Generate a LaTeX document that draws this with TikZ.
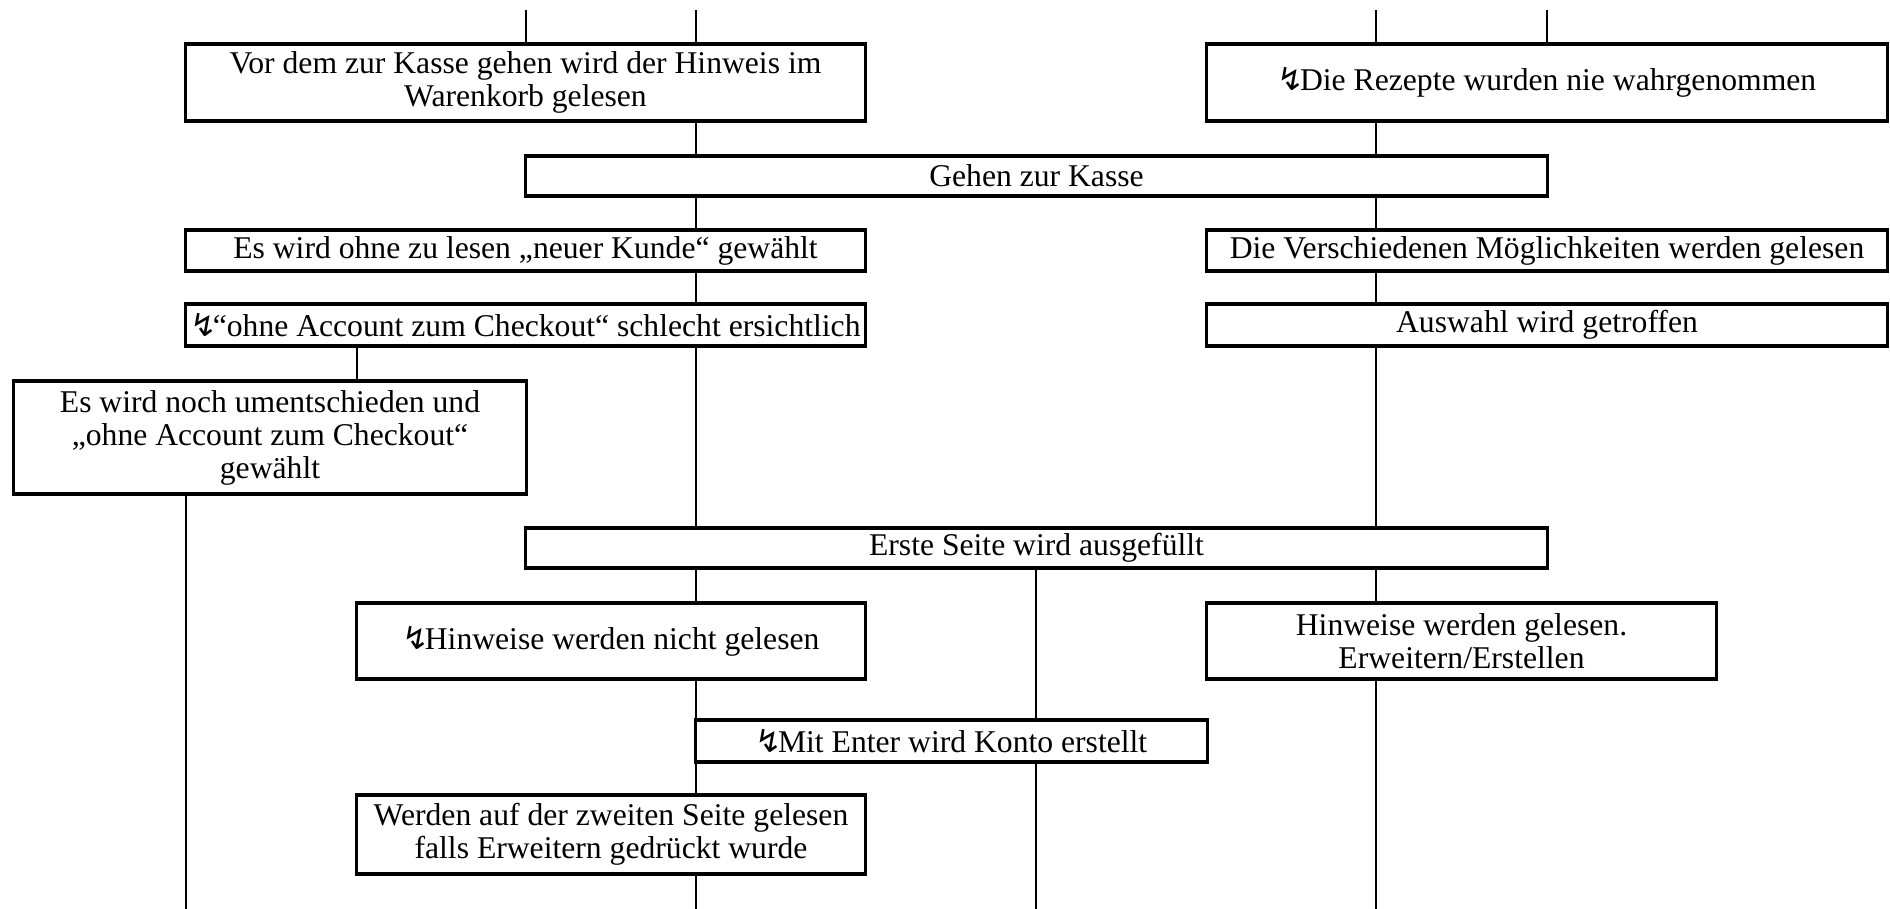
\documentclass[tikz,border=0pt]{standalone}
\usepackage{fontspec}
\setmainfont{Liberation Serif}
\newfontfamily\symfont{DejaVu Sans}
\newcommand{\blitz}{{\symfont\fontsize{9}{9}\selectfont ↯}\kern-1.2pt}
\tikzset{
  box/.style={draw, line width=0.9pt, align=center, inner sep=1pt, font=\fontsize{9}{9.4}\selectfont},
  link/.style={line width=0.6pt}
}
\begin{document}
\begin{tikzpicture}[x=0.01cm, y=-0.01cm]
        \useasboundingbox (0,0) rectangle (1890,909);
        % columns and free ends
        \coordinate (cA) at (186,0);
        \coordinate (cB) at (357,0);
        \coordinate (cC) at (526,0);
        \coordinate (cD) at (696,0);
        \coordinate (cE) at (1036,0);
        \coordinate (cF) at (1376,0);
        \coordinate (cG) at (1547,0);
        \coordinate (top) at (0,10);
        \coordinate (bot) at (0,909);

        % left path
        \node[box, minimum width=6.79cm, minimum height=0.77cm] (vorkasse) at (525.5,82.5) {Vor dem zur Kasse gehen wird der Hinweis im\\Warenkorb gelesen};
        \node[box, minimum width=6.79cm, minimum height=0.41cm] (neukunde) at (525.5,250.5) {Es wird ohne zu lesen „neuer Kunde“ gewählt};
        \node[box, minimum width=6.79cm, minimum height=0.42cm] (checkout) at (525.5,325) {\blitz“ohne Account zum Checkout“ schlecht ersichtlich};
        \node[box, minimum width=5.12cm, minimum height=1.13cm] (umentsch) at (270,437.5) {Es wird noch umentschieden und\\„ohne Account zum Checkout“\\gewählt};

        % right path
        \node[box, minimum width=6.80cm, minimum height=0.77cm] (rezepte) at (1547,82.5) {\blitz Die Rezepte wurden nie wahrgenommen};
        \node[box, minimum width=6.80cm, minimum height=0.41cm] (moeglich) at (1547,250.5) {Die Verschiedenen Möglichkeiten werden gelesen};
        \node[box, minimum width=6.80cm, minimum height=0.42cm] (auswahl) at (1547,325) {Auswahl wird getroffen};

        % common steps
        \node[box, minimum width=10.21cm, minimum height=0.40cm] (kasse) at (1036.5,176) {Gehen zur Kasse};
        \node[box, minimum width=10.21cm, minimum height=0.40cm] (erste) at (1036.5,548) {Erste Seite wird ausgefüllt};
        \node[box, minimum width=5.08cm, minimum height=0.76cm] (nichtgel) at (611,641) {\blitz Hinweise werden nicht gelesen};
        \node[box, minimum width=5.09cm, minimum height=0.76cm] (gelesen) at (1461.5,641) {Hinweise werden gelesen.\\Erweitern/Erstellen};
        \node[box, minimum width=5.11cm, minimum height=0.42cm] (enter) at (951.5,741) {\blitz Mit Enter wird Konto erstellt};
        \node[box, minimum width=5.08cm, minimum height=0.79cm] (werden) at (611,834.5) {Werden auf der zweiten Seite gelesen\\falls Erweitern gedrückt wurde};

        % connectors
        \foreach \c/\a/\b in {cC/top/vorkasse.north, cD/top/vorkasse.north,
                cF/top/rezepte.north, cG/top/rezepte.north,
                cD/vorkasse.south/kasse.north, cF/rezepte.south/kasse.north,
                cD/kasse.south/neukunde.north, cF/kasse.south/moeglich.north,
                cD/neukunde.south/checkout.north, cF/moeglich.south/auswahl.north,
                cB/checkout.south/umentsch.north, cD/checkout.south/erste.north,
                cF/auswahl.south/erste.north, cA/umentsch.south/bot,
                cD/erste.south/nichtgel.north, cE/erste.south/enter.north,
                cF/erste.south/gelesen.north, cD/nichtgel.south/werden.north,
                cE/enter.south/bot, cF/gelesen.south/bot, cD/werden.south/bot}{
            \draw[link] (\c |- \a) -- (\c |- \b);
        }
    \end{tikzpicture}
\end{document}
